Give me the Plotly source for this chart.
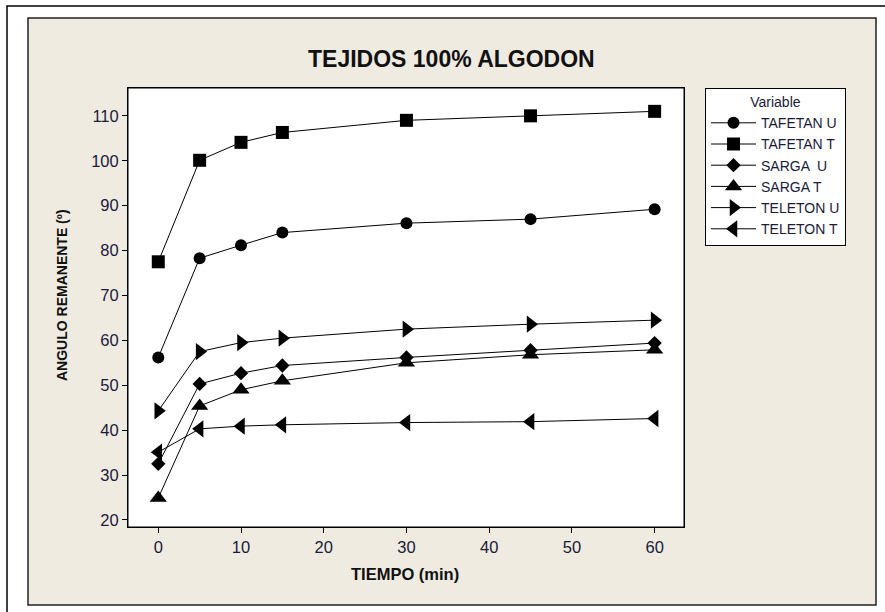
import plotly.graph_objects as go

# ---- data ----
tiempo = [0, 5, 10, 15, 30, 45, 60]
tafetan_u = [56.2, 78.3, 81.2, 84.0, 86.1, 87.0, 89.2]
tafetan_t = [77.5, 100.1, 104.1, 106.3, 109.0, 110.0, 111.0]
sarga_u = [32.5, 50.3, 52.7, 54.4, 56.2, 57.8, 59.4]
sarga_t = [24.9, 45.4, 49.0, 51.0, 55.0, 56.8, 57.9]
teleton_u = [44.3, 57.5, 59.5, 60.5, 62.5, 63.6, 64.5]
teleton_t = [35.1, 40.3, 40.9, 41.2, 41.7, 41.9, 42.6]

series_names = ["TAFETAN U", "TAFETAN T", "SARGA  U", "SARGA T", "TELETON U", "TELETON T"]
series_values = [tafetan_u, tafetan_t, sarga_u, sarga_t, teleton_u, teleton_t]
symbols = ["circle", "square", "diamond", "triangle-up", "triangle-right", "triangle-left"]
sizes = [12, 13, 11, 15, 15, 15]

x_ticks = [0, 10, 20, 30, 40, 50, 60]
y_ticks = [20, 30, 40, 50, 60, 70, 80, 90, 100, 110]

W, H = 885, 612
L, R, T, B = 128, 684, 88, 527  # plot area in px

FONT = "Liberation Sans, Arial, sans-serif"
TXT = "#1a1a3a"

fig = go.Figure()
for name, vals, sym, sz in zip(series_names, series_values, symbols, sizes):
    fig.add_trace(go.Scatter(
        x=tiempo, y=vals, name=name, mode="lines+markers",
        line=dict(color="black", width=1),
        marker=dict(symbol=sym, size=sz, color="black", line=dict(width=0)),
    ))

def px_x(p):
    return (p - L) / (R - L)

def px_y(p):
    return (B - p) / (B - T)

shapes = [
    # outer thin frame
    dict(type="rect", xref="paper", yref="paper", layer="below",
         x0=px_x(7), x1=px_x(W + 20), y0=px_y(H + 20), y1=px_y(6),
         line=dict(color="black", width=1.5), fillcolor="white"),
    # beige panel
    dict(type="rect", xref="paper", yref="paper", layer="below",
         x0=px_x(28), x1=px_x(876), y0=px_y(605), y1=px_y(18),
         line=dict(color="#222222", width=1.5), fillcolor="#EFEBE1"),
    # white plot area
    dict(type="rect", xref="paper", yref="paper", layer="below",
         x0=0, x1=1, y0=0, y1=1,
         line=dict(color="black", width=1), fillcolor="white"),
]

annotations = [
    dict(text="<b>TEJIDOS 100% ALGODON</b>", xref="paper", yref="paper",
         x=px_x(451.5), y=px_y(59), xanchor="center", yanchor="middle",
         showarrow=False, font=dict(family=FONT, size=23, color="#111111")),
    dict(text="<b>ANGULO REMANENTE (º)</b>", xref="paper", yref="paper",
         x=px_x(62), y=px_y(295), xanchor="center", yanchor="middle",
         textangle=-90, showarrow=False, font=dict(family=FONT, size=14, color="#111111")),
    dict(text="<b>TIEMPO (min)</b>", xref="paper", yref="paper",
         x=px_x(405), y=px_y(574), xanchor="center", yanchor="middle",
         showarrow=False, font=dict(family=FONT, size=16.5, color="#111111")),
]

fig.update_layout(
    width=W, height=H,
    margin=dict(l=L, r=W - R, t=T, b=H - B, pad=0),
    paper_bgcolor="white", plot_bgcolor="rgba(0,0,0,0)",
    shapes=shapes, annotations=annotations,
    showlegend=True,
    legend=dict(
        x=px_x(705), y=1.0, xanchor="left", yanchor="top",
        bgcolor="white", bordercolor="black", borderwidth=1,
        font=dict(family=FONT, size=14, color=TXT),
        title=dict(text="Variable", side="top center", font=dict(family=FONT, size=14, color=TXT)),
        itemwidth=45,
    ),
    xaxis=dict(range=[-3.66, 63.55], tickvals=x_ticks, ticks="outside", ticklen=5,
               tickcolor="black", showline=True, linecolor="black", linewidth=1,
               mirror=True, showgrid=False, zeroline=False,
               tickfont=dict(family=FONT, size=16.5, color=TXT)),
    yaxis=dict(range=[18.44, 116.2], tickvals=y_ticks, ticks="outside", ticklen=5,
               tickcolor="black", showline=True, linecolor="black", linewidth=1,
               mirror=True, showgrid=False, zeroline=False,
               tickfont=dict(family=FONT, size=16.5, color=TXT)),
)

fig.write_html("out.html")
